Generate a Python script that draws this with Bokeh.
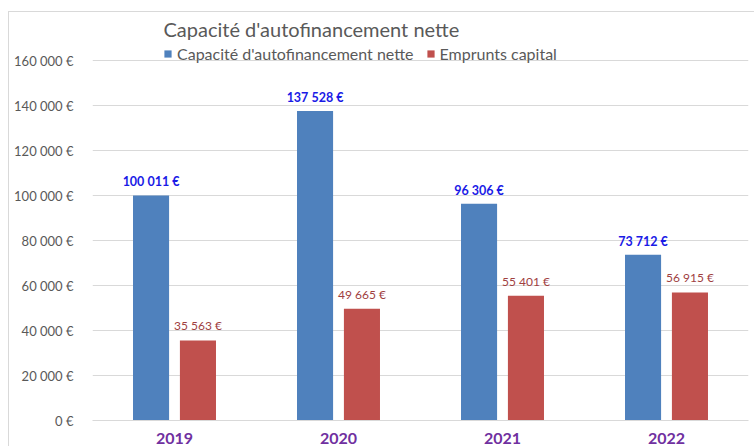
from bokeh.plotting import figure
from bokeh.models import (ColumnDataSource, FactorRange, FixedTicker, LabelSet,
                          Label, Legend, LegendItem)
from bokeh.core.properties import value
from bokeh.transform import dodge
from bokeh.embed import file_html
from bokeh.resources import INLINE

# ---- data ----
years = ["2019", "2020", "2021", "2022"]
caf_nette = [100011, 137528, 96306, 73712]
emprunts_capital = [35563, 49665, 55401, 56915]
y_ticks = [0, 20000, 40000, 60000, 80000, 100000, 120000, 140000, 160000]
title_text = "Capacité d'autofinancement  nette"
series_names = ["Capacité d'autofinancement nette", "Emprunts capital"]

FONT = "Lato"
GRAY = "#595959"
GRID = "#d9d9d9"
BLUE = "#4F81BD"
RED = "#C0504D"


def eur(v):
    return f"{v:,}".replace(",", " ") + " €"


src = ColumnDataSource(dict(
    year=years,
    caf=caf_nette,
    emp=emprunts_capital,
    caf_lbl=[eur(v) for v in caf_nette],
    emp_lbl=[eur(v) for v in emprunts_capital],
))

p = figure(x_range=FactorRange(*years, range_padding=0), y_range=(0, 180000),
           width=746, height=435, output_backend="svg", toolbar_location=None,
           min_border_left=83, min_border_right=7, min_border_top=3,
           min_border_bottom=27)
p.margin = (11, 0, 0, 8)
p.styles = {"border-top": f"1px solid {GRID}", "border-left": f"1px solid {GRID}"}
p.outline_line_color = None
p.background_fill_color = "white"
p.border_fill_color = "white"

OFF = 0.143
W = 0.22
r1 = p.vbar(x=dodge("year", -OFF, range=p.x_range), top="caf", width=W,
            source=src, fill_color=BLUE, line_color=None)
r2 = p.vbar(x=dodge("year", OFF, range=p.x_range), top="emp", width=W,
            source=src, fill_color=RED, line_color=None)

p.add_layout(LabelSet(x=dodge("year", -OFF, range=p.x_range), y="caf",
                      text="caf_lbl", source=src, text_align="center",
                      text_baseline="bottom", y_offset=6,
                      text_font=value(FONT), text_font_size="12.5px",
                      text_font_style="bold", text_color="#1A1AE6"))
p.add_layout(LabelSet(x=dodge("year", OFF, range=p.x_range), y="emp",
                      text="emp_lbl", source=src, text_align="center",
                      text_baseline="bottom", y_offset=7,
                      text_font=value(FONT), text_font_size="12px",
                      text_color="#A0403F"))

# axes
p.yaxis.ticker = FixedTicker(ticks=y_ticks)
p.yaxis.major_label_overrides = {t: eur(t) for t in y_ticks}
p.yaxis.axis_line_color = None
p.yaxis.major_tick_line_color = None
p.yaxis.minor_tick_line_color = None
p.yaxis.major_label_standoff = 13
p.yaxis.major_label_text_font = FONT
p.yaxis.major_label_text_font_size = "13px"
p.yaxis.major_label_text_color = GRAY

p.xaxis.axis_line_color = GRID
p.xaxis.major_tick_line_color = None
p.xaxis.minor_tick_line_color = None
p.xaxis.major_label_standoff = 6
p.xaxis.major_label_text_font = FONT
p.xaxis.major_label_text_font_size = "16px"
p.xaxis.major_label_text_font_style = "bold"
p.xaxis.major_label_text_color = "#7030A0"

p.xgrid.grid_line_color = None
p.ygrid.grid_line_color = GRID
p.ygrid.grid_line_width = 1

# title
p.add_layout(Label(x=71, y=392, x_units="screen", y_units="screen",
                   text=title_text, text_font=FONT, text_font_size="20px",
                   text_color=GRAY, text_baseline="middle"))

# legend
legend = Legend(items=[LegendItem(label=series_names[0], renderers=[r1]),
                       LegendItem(label=series_names[1], renderers=[r2])],
                location=(71, 357), orientation="horizontal",
                padding=0, margin=0, spacing=12, label_standoff=5,
                glyph_width=9, glyph_height=9, label_height=18,
                label_text_font=FONT, label_text_font_size="16px",
                label_text_color=GRAY, border_line_color=None,
                background_fill_alpha=0)
p.add_layout(legend, "center")

open("out.html", "w").write(file_html(p, INLINE))
